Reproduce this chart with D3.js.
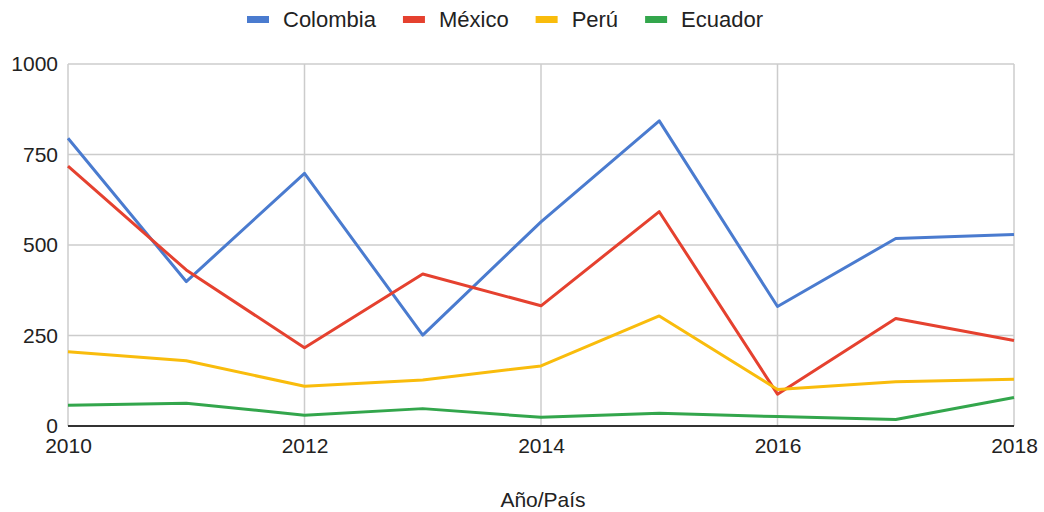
<!DOCTYPE html>
<html>
<head>
<meta charset="utf-8">
<script src="https://cdn.jsdelivr.net/npm/d3@7"></script>
<style>
  body { margin: 0; background: #fff; }
  svg { display: block; font-family: "Liberation Sans", Arial, sans-serif; }
</style>
</head>
<body>
<svg id="chart"></svg>
<script>
// datos
const years = [2010, 2011, 2012, 2013, 2014, 2015, 2016, 2017, 2018];
const colombia = [795, 399, 698, 251, 564, 843, 330, 518, 529];
const mexico = [718, 431, 216, 420, 332, 592, 88, 297, 236];
const peru = [205, 180, 110, 127, 166, 304, 101, 122, 129];
const ecuador = [57, 63, 30, 48, 24, 35, 26, 18, 79];
const seriesNames = ['Colombia', 'México', 'Perú', 'Ecuador'];
const colors = ['#4a7bcf', '#e5412f', '#f9bc0c', '#33a64c'];
const xTicks = [2010, 2012, 2014, 2016, 2018];
const yTicks = [0, 250, 500, 750, 1000];
const xTitle = 'Año/País';

const width = 1044;
const height = 512;
const margin = {left: 68, right: 30, top: 64, bottom: 86};

const svg = d3.select('#chart')
  .attr('width', width)
  .attr('height', height);

const xScale = d3.scaleLinear()
  .domain([2010, 2018])
  .range([margin.left, width - margin.right]);

const yScale = d3.scaleLinear()
  .domain([0, 1000])
  .range([height - margin.bottom, margin.top]);

// rejilla
svg.append('g')
  .selectAll('line')
  .data(yTicks)
  .enter()
  .append('line')
  .attr('x1', margin.left)
  .attr('x2', width - margin.right)
  .attr('y1', d => yScale(d))
  .attr('y2', d => yScale(d))
  .attr('stroke', '#cccccc')
  .attr('stroke-width', 1.5);

svg.append('g')
  .selectAll('line')
  .data(xTicks)
  .enter()
  .append('line')
  .attr('x1', d => xScale(d))
  .attr('x2', d => xScale(d))
  .attr('y1', margin.top)
  .attr('y2', height - margin.bottom)
  .attr('stroke', '#cccccc')
  .attr('stroke-width', 1.5);

// eje y
const yAxis = svg.append('g')
  .attr('transform', `translate(${margin.left}, 0)`)
  .call(d3.axisLeft(yScale).tickValues(yTicks).tickFormat(d3.format('d')).tickSize(0).tickPadding(10));
yAxis.select('.domain').remove();
yAxis.selectAll('text')
  .attr('font-size', 21)
  .attr('fill', '#222')
  .attr('font-family', '"Liberation Sans", Arial, sans-serif');

// eje x
const xAxis = svg.append('g')
  .attr('transform', `translate(0, ${height - margin.bottom})`)
  .call(d3.axisBottom(xScale).tickValues(xTicks).tickFormat(d3.format('d')).tickSize(0).tickPadding(12));
xAxis.select('.domain').remove();
xAxis.selectAll('text')
  .attr('font-size', 21)
  .attr('fill', '#222')
  .attr('font-family', '"Liberation Sans", Arial, sans-serif');

// línea base
svg.append('line')
  .attr('x1', margin.left)
  .attr('x2', width - margin.right)
  .attr('y1', yScale(0))
  .attr('y2', yScale(0))
  .attr('stroke', '#333')
  .attr('stroke-width', 2);

// series
const allSeries = [colombia, mexico, peru, ecuador];
const line = d3.line()
  .x((d, i) => xScale(years[i]))
  .y(d => yScale(d));

svg.append('g')
  .selectAll('path')
  .data(allSeries)
  .enter()
  .append('path')
  .attr('d', d => line(d))
  .attr('fill', 'none')
  .attr('stroke', (d, i) => colors[i])
  .attr('stroke-width', 3)
  .attr('stroke-linejoin', 'round');

// título del eje x
svg.append('text')
  .attr('x', 543)
  .attr('y', 507)
  .attr('text-anchor', 'middle')
  .attr('font-size', 21)
  .attr('fill', '#222')
  .text(xTitle);

// leyenda
const legend = svg.append('g');
let lx = 247;
seriesNames.forEach((name, i) => {
  legend.append('rect')
    .attr('x', lx)
    .attr('y', 16)
    .attr('width', 22)
    .attr('height', 7)
    .attr('fill', colors[i]);
  const t = legend.append('text')
    .attr('x', lx + 36)
    .attr('y', 27)
    .attr('font-size', 22)
    .attr('fill', '#222')
    .text(name);
  lx += 36 + t.node().getComputedTextLength() + 27;
});
</script>
</body>
</html>
